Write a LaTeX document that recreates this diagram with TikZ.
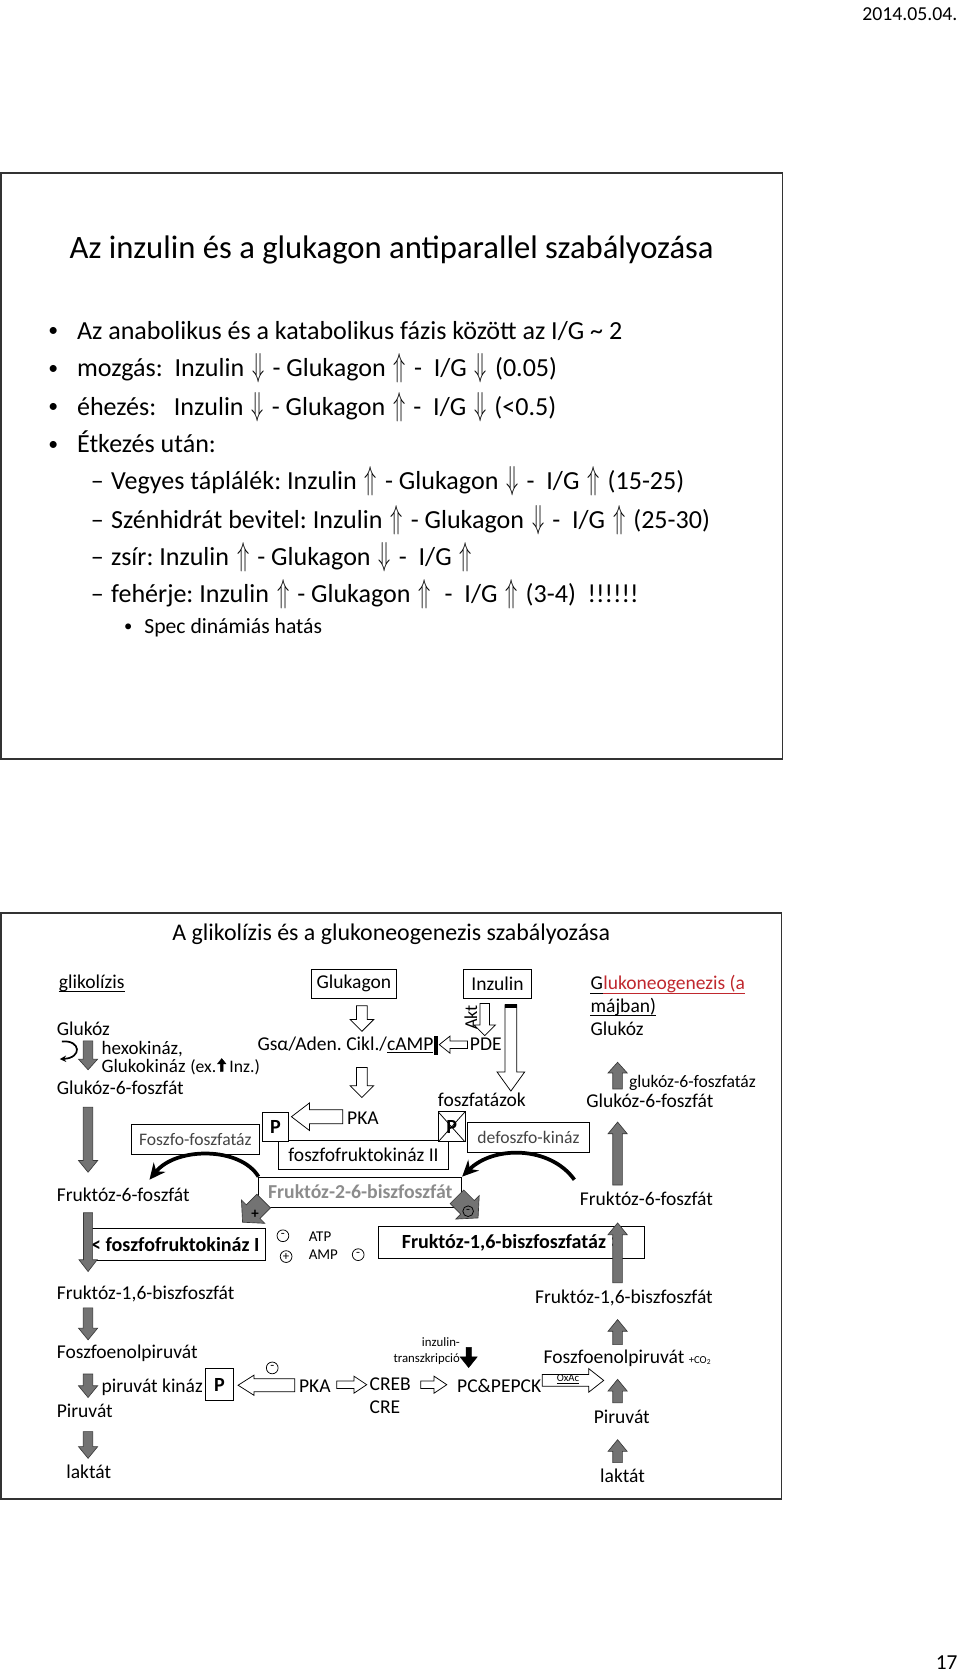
\documentclass[tikz,border=0pt]{standalone}
\usepackage{fontspec}
\setmainfont{Carlito}
\usetikzlibrary{arrows.meta}
\frenchspacing
\definecolor{framec}{HTML}{333333}
\definecolor{arrgray}{HTML}{737373}
\definecolor{arrdark}{HTML}{383838}
\definecolor{redt}{HTML}{C0282E}
\definecolor{f26gray}{HTML}{8C8C8C}
\definecolor{labgray}{HTML}{444444}
\newcommand\diafont{\fontsize{18.3}{21}\selectfont}
\newcommand\boldfnt{\fontsize{18.8}{22}\selectfont\bfseries}
\newcommand\labfont{\fontsize{16.5}{19}\selectfont}
\newcommand\bulfont{\fontsize{24.4}{29}\selectfont}
\newcommand\UpA{\hspace{2pt}\scalebox{0.75}[1.25]{$\Uparrow$}\hspace{2pt}}
\newcommand\DnA{\hspace{2pt}\scalebox{0.75}[1.25]{$\Downarrow$}\hspace{2pt}}
% #1 style, #2 tail point, #3 angle, #4 length, #5 shaft width, #6 head width, #7 head length
\newcommand\blockarr[7]{\begin{scope}[shift={#2},rotate=#3]\path[#1] (0,{-#5/2}) -- ({#4-#7},{-#5/2}) -- ({#4-#7},{-#6/2}) -- (#4,0) -- ({#4-#7},{#6/2}) -- ({#4-#7},{#5/2}) -- (0,{#5/2}) -- cycle;\end{scope}}
\begin{document}
\begin{tikzpicture}[x=1pt,y=-1pt,
  dtxt/.style={anchor=base west,inner sep=0pt,font=\diafont},
  btxt/.style={anchor=base west,inner sep=0pt,font=\bulfont},
  bull/.style={anchor=base west,inner sep=0pt,font=\fontsize{18.5}{22}\selectfont},
  dbox/.style={draw=black,line width=0.8pt,fill=white,inner sep=0pt,font=\diafont},
  lbox/.style={dbox,font=\labfont,text=labgray},
  garr/.style={fill=arrgray,draw=arrdark,line width=0.6pt},
  warr/.style={fill=white,draw=black,line width=0.7pt},
  karr/.style={fill=black,draw=black,line width=0.4pt},
  csign/.style={circle,draw=black,line width=0.7pt,inner sep=0pt,minimum size=11pt,font=\fontsize{12}{12}\selectfont},
  curvarr/.style={line width=3.5pt,-{Stealth[length=15pt,width=14pt]}},
  uline/.style={line width=0.9pt}]
\useasboundingbox (0,0) rectangle (899,1568);
\fill[white] (0,0) rectangle (899,1568);
% header and footer
\node[anchor=base east,inner sep=0pt,font=\fontsize{18.5}{22}\selectfont] (date) at (897,19) {2014.05.04.};
\node[anchor=base east,inner sep=0pt,font=\fontsize{20}{24}\selectfont] (pnum) at (897,1563.5) {17};
% ---------- slide 1 ----------
\draw[framec,line width=1.5pt] (1,162) rectangle (733,711);
\node[anchor=base west,inner sep=0pt,font=\fontsize{30.6}{36}\selectfont] (t1) at (65,241.7) {Az inzulin és a glukagon antiparallel szabályozása};
\node[bull] (b1) at (45,315.6) {•};
\node[btxt] (l1) at (72,317.8) {Az anabolikus és a katabolikus fázis között az I/G \textasciitilde\ 2};
\node[bull] (b2) at (45,350.6) {•};
\node[btxt] (l2) at (72,352.8) {mozgás:\ \ Inzulin \DnA{} - Glukagon \UpA{} - \ I/G \DnA{} (0.05)};
\node[bull] (b3) at (45,386.6) {•};
\node[btxt] (l3) at (72,388.8) {éhezés:\ \ \ Inzulin \DnA{} - Glukagon \UpA{} - \ I/G \DnA{} (<0.5)};
\node[bull] (b4) at (45,421.6) {•};
\node[btxt] (l4) at (72,423.8) {Étkezés után:};
\node[btxt] (d1) at (85,458.8) {–};
\node[btxt] (l5) at (104,458.8) {Vegyes táplálék: Inzulin \UpA{} - Glukagon \DnA{} - \ I/G \UpA{} (15-25)};
\node[btxt] (d2) at (85,494.8) {–};
\node[btxt] (l6) at (104,494.8) {Szénhidrát bevitel: Inzulin \UpA{} - Glukagon \DnA{} - \ I/G \UpA{} (25-30)};
\node[btxt] (d3) at (85,529.8) {–};
\node[btxt] (l7) at (104,529.8) {zsír: Inzulin \UpA{} - Glukagon \DnA{} - \ I/G \UpA{}};
\node[btxt] (d4) at (85,564.8) {–};
\node[btxt] (l8) at (104,564.8) {fehérje: Inzulin \UpA{} - Glukagon \UpA{} \ - \ I/G \UpA{} (3-4) \ !!!!!!};
\node[anchor=base west,inner sep=0pt,font=\fontsize{15.5}{18}\selectfont] (b5) at (116,591.5) {•};
\node[anchor=base west,inner sep=0pt,font=\fontsize{20.3}{24}\selectfont] (l9) at (135,593.5) {Spec dinámiás hatás};
% ---------- slide 2 ----------
\draw[framec,line width=1.5pt] (1,855) rectangle (732,1404);
\node[anchor=base,inner sep=0pt,font=\fontsize{22.4}{27}\selectfont] (t2) at (366.5,881.2) {A glikolízis és a glukoneogenezis szabályozása};
% headers
\node[dtxt] (glik) at (55,926) {glikolízis};
\draw[uline] ([yshift=-2.8pt]glik.base west) -- ([yshift=-2.8pt]glik.base east);
\node[dbox,minimum width=79pt,minimum height=27pt] (glukagon) at (331.5,921.5) {Glukagon};
\node[dbox,minimum width=64pt,minimum height=27pt] (inzulin) at (466,921.5) {Inzulin};
\node[dtxt] (gngG) at (553,927) {G};
\node[dtxt,text=redt] (gngR) at (gngG.base east) {lukoneogenezis (a};
\draw[uline] ([yshift=-3.2pt]gngG.base west) -- ([yshift=-3.2pt]gngG.base east);
\draw[uline,redt] ([yshift=-3.2pt]gngR.base west) -- ([yshift=-3.2pt]gngR.base east);
\node[dtxt] (majban) at (553,948) {májban)};
\draw[uline] ([yshift=-3.2pt]majban.base west) -- ([yshift=-3.2pt]majban.base east);
\node[dtxt] (glR) at (553,970) {Glukóz};
\node[dtxt] (glL) at (53,970) {Glukóz};
\node[anchor=base west,inner sep=0pt,font=\fontsize{17.8}{20}\selectfont] (hexo) at (95,987.5) {hexokináz,};
\node[anchor=base west,inner sep=0pt,font=\fontsize{17.8}{20}\selectfont] (gluko) at (95,1004.5) {Glukokináz};
\node[anchor=base west,inner sep=0pt,font=\labfont] (ex) at ([xshift=4pt]gluko.base east) {(ex.};
\coordinate (exarr) at ([xshift=5pt,yshift=1pt]ex.base east);
\blockarr{karr}{(exarr)}{90}{12}{2.5}{8}{5}
\node[anchor=base west,inner sep=0pt,font=\labfont] (inz) at ([xshift=12pt]ex.base east) {Inz.)};
\node[dtxt] (g6pL) at (53,1025) {Glukóz-6-foszfát};
\draw[line width=1.6pt,-{Stealth[length=6pt,width=6pt]}] (58,975.5) .. controls (76,974) and (77,991) .. (56,992);
\node[dtxt] (gsa) at (241,984) {Gsα/Aden. Cikl./\underline{cAMP}};
\fill[black] ([xshift=0.5pt,yshift=-4pt]gsa.base east) rectangle ([xshift=4pt,yshift=14pt]gsa.base east);
\node[dtxt] (pde) at (440,984) {PDE};
\node[inner sep=0pt,font=\fontsize{17}{20}\selectfont,rotate=90] (akt) at (441,953) {Akt};
\node[anchor=base west,inner sep=0pt,font=\labfont] (g6pase) at (589,1018.3) {glukóz-6-foszfatáz};
\node[dtxt] (foszf) at (410,1036) {foszfatázok};
\node[dtxt] (g6pR) at (549,1037) {Glukóz-6-foszfát};
\node[dtxt] (pka1) at (325,1053) {PKA};
\node[lbox,minimum width=120pt,minimum height=28pt] (ffase) at (183,1067) {Foszfo-foszfatáz};
\node[lbox,minimum width=114pt,minimum height=28pt] (dfk) at (495,1065) {defoszfo-kináz};
\node[dbox,minimum width=159pt,minimum height=27pt] (pfk2) at (340.5,1081.5) {foszfofruktokináz II};
\node[dbox,minimum width=24pt,minimum height=27pt,font=\boldfnt] (pbox1) at (258,1055.5) {P};
\node[dbox,minimum width=25pt,minimum height=28pt,font=\boldfnt,
  path picture={\draw[line width=0.7pt] (path picture bounding box.north west) -- (path picture bounding box.south east) (path picture bounding box.north east) -- (path picture bounding box.south west);}] (pbox2) at (423,1055.5) {P};
\node[dbox,minimum width=190pt,minimum height=28pt,font=\fontsize{18.5}{22}\selectfont\bfseries,text=f26gray] (f26) at (337.5,1116.5) {Fruktóz-2-6-biszfoszfát};
\node[dtxt] (f6pL) at (53,1125) {Fruktóz-6-foszfát};
\node[dtxt] (f6pR) at (543,1129) {Fruktóz-6-foszfát};
% effector arrows on the F-2,6-BP box
\blockarr{garr}{(247,1125)}{-135}{28}{18}{31}{14}
\node[inner sep=0pt,font=\fontsize{14}{14}\selectfont\bfseries] (plus1) at (239,1137) {+};
\blockarr{garr}{(428,1121)}{-45}{28}{18}{31}{14}
\node[csign,minimum size=10pt,fill=arrgray] (minus1) at (438.5,1134.5) {-};
% curved arrows
\coordinate (ctipL) at (140,1105);
\coordinate (cstartR) at (538,1105);
\draw[curvarr] (f26.north west) .. controls (225,1074) and (165,1074) .. (ctipL);
\draw[curvarr] (cstartR) .. controls (515,1073) and (462,1073) .. (f26.north east);
% enzyme boxes
\node[dbox,minimum width=169pt,minimum height=30pt,font=\boldfnt] (pfk1) at (164.2,1165.8) {< foszfofruktokináz I};
\node[dbox,minimum width=249pt,minimum height=30pt,font=\boldfnt] (fbpase) at (478.8,1164) {Fruktóz-1,6-biszfoszfatáz >};
\node[csign] (c1) at (265,1157.5) {-};
\node[csign] (c2) at (268,1177) {+};
\node[anchor=base west,inner sep=0pt,font=\fontsize{14}{16}\selectfont] (atp) at (289,1162.5) {ATP};
\node[anchor=base west,inner sep=0pt,font=\fontsize{14}{16}\selectfont] (amp) at (289,1179.8) {AMP};
\node[csign] (c3) at (335.5,1175.2) {-};
\node[dtxt] (f16L) at (53,1217) {Fruktóz-1,6-biszfoszfát};
\node[dtxt] (f16R) at (501,1221) {Fruktóz-1,6-biszfoszfát};
\node[anchor=base east,inner sep=0pt,font=\fontsize{12}{14}\selectfont] (inzt1) at (431,1260.8) {inzulin-};
\node[anchor=base east,inner sep=0pt,font=\fontsize{12}{14}\selectfont] (inzt2) at (431,1275.8) {transzkripció};
\node[dtxt] (pepL) at (53,1272) {Foszfoenolpiruvát};
\node[dtxt] (pepR) at (509,1277) {Foszfoenolpiruvát};
\node[anchor=base west,inner sep=0pt,font=\fontsize{10}{12}\selectfont] (co2) at (645,1277) {+CO\textsubscript{2}};
\node[dtxt] (pk) at (95,1304) {piruvát kináz};
\node[dbox,minimum width=26pt,minimum height=30pt,font=\boldfnt] (pbox3) at (205.5,1297) {P};
\node[dtxt] (pka2) at (280,1304) {PKA};
\node[dtxt] (creb) at (346,1302) {CREB};
\node[dtxt] (cre) at (346,1324) {CRE};
\node[dtxt] (pcpepck) at (428,1304) {PC\&PEPCK};
\node[dtxt] (pyrL) at (53,1328) {Piruvát};
\node[dtxt] (pyrR) at (556,1333) {Piruvát};
\node[dtxt] (lacL) at (62,1385) {laktát};
\node[dtxt] (lacR) at (562,1389) {laktát};
% gray pathway arrows, glycolysis (down)
\blockarr{garr}{(82.5,975)}{-90}{27}{9}{18}{10}
\blockarr{garr}{(82.5,1037)}{-90}{61}{9}{18}{11}
\blockarr{garr}{(82.5,1136)}{-90}{55}{8.5}{17}{11}
\blockarr{garr}{(82.5,1225)}{-90}{30}{9}{18}{11}
\blockarr{garr}{(82.5,1287)}{-90}{22}{9}{18}{11}
\blockarr{garr}{(82.5,1341)}{-90}{25}{9}{18}{11}
% gray pathway arrows, gluconeogenesis (up)
\blockarr{garr}{(578.5,1020)}{90}{25}{9}{18}{10}
\blockarr{garr}{(578.5,1110)}{90}{59}{9}{18}{11}
\blockarr{garr}{(578.5,1201.5)}{90}{56}{9}{18}{11}
\blockarr{garr}{(578.5,1259.5)}{90}{23.5}{9}{18}{11}
\blockarr{garr}{(578.5,1314)}{90}{22}{9}{18}{11}
\blockarr{garr}{(578.5,1370)}{90}{21.5}{9}{18}{11}
% white signalling arrows
\blockarr{warr}{(339,942)}{-90}{24}{10}{22}{11}
\blockarr{warr}{(339,1000)}{-90}{28}{10}{22}{11}
\blockarr{warr}{(454,940)}{-90}{30}{9}{20}{10}
\blockarr{warr}{(438,978.5)}{180}{26.5}{7}{16}{10}
\blockarr{warr}{(478.5,941)}{-90}{81}{11}{26}{18}
\fill[black] (473,940) rectangle (484,944);
\blockarr{warr}{(321,1046)}{180}{48}{13}{26}{17}
\blockarr{warr}{(276,1297.5)}{180}{53}{12}{19}{15}
\node[csign] (c4) at (255,1281.3) {-};
\blockarr{warr}{(315.5,1297)}{0}{28}{7}{16}{12}
\blockarr{warr}{(394,1297)}{0}{24.5}{7}{16}{12}
\blockarr{warr}{(508,1293)}{0}{57.5}{11}{22}{14}
\node[inner sep=0pt,font=\fontsize{10}{11}\selectfont] (oxac) at (532,1291.5) {\underline{OxAc}};
\blockarr{karr}{(439,1262)}{-90}{19}{5}{16}{10}
\end{tikzpicture}
\end{document}
